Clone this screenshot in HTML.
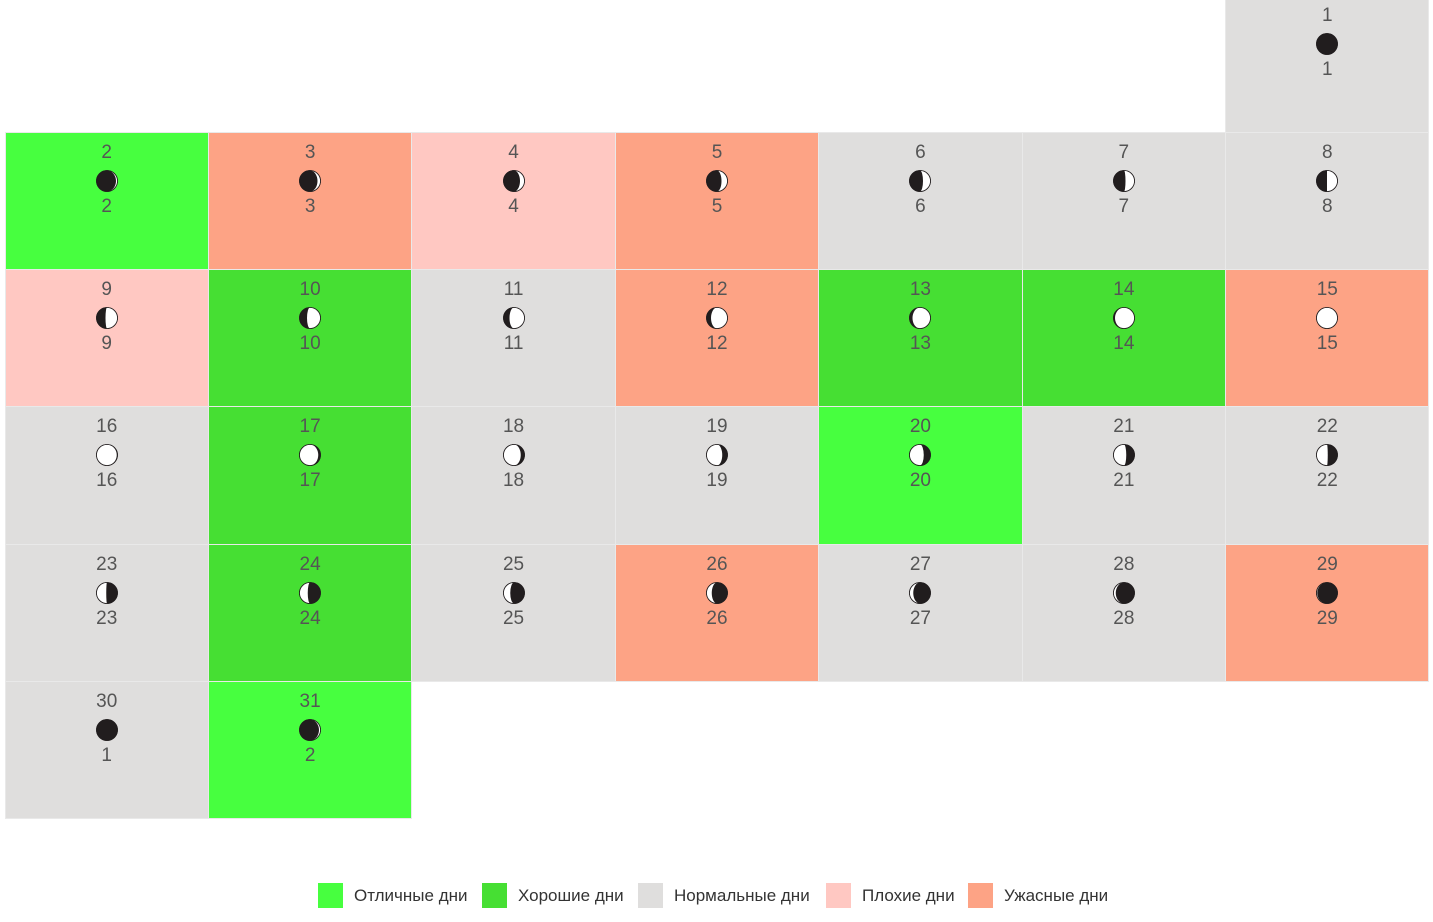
<!DOCTYPE html>
<html><head><meta charset="utf-8"><style>
body{margin:0;width:1433px;height:922px;background:#fff;position:relative;overflow:hidden;font-family:"Liberation Sans",sans-serif;}
.c{position:absolute;box-sizing:border-box;width:204.4px;height:138.3px;border:1px solid #e9e9e9;color:#555;font-size:19px;}
.t{position:absolute;left:0;right:0;text-align:center;line-height:20px;}
.t1{top:10px}.t2{top:64px}
.c svg{position:absolute;left:50%;margin-left:-12px;top:36px;}
.E{background:#47ff3f}.G{background:#46df33}.N{background:#dfdedd}.B{background:#ffc8c2}.T{background:#fda385}
.lg{position:absolute;top:883px;height:25px;font-size:17px;color:#333;line-height:25px;}
.lg i{position:absolute;left:0;top:0;width:25px;height:25px;}
.lg span{position:absolute;left:36px;white-space:nowrap;}
</style></head><body>
<div id="g"></div>
<div class="lg" style="left:318px"><i class="E"></i><span>Отличные дни</span></div>
<div class="lg" style="left:482px"><i class="G"></i><span>Хорошие дни</span></div>
<div class="lg" style="left:638px"><i class="N"></i><span>Нормальные дни</span></div>
<div class="lg" style="left:826px"><i class="B"></i><span>Плохие дни</span></div>
<div class="lg" style="left:968px"><i class="T"></i><span>Ужасные дни</span></div>
<script>
var d=[[1,1,'N'],[2,2,'E'],[3,3,'T'],[4,4,'B'],[5,5,'T'],[6,6,'N'],[7,7,'N'],[8,8,'N'],[9,9,'B'],[10,10,'G'],[11,11,'N'],[12,12,'T'],[13,13,'G'],[14,14,'G'],[15,15,'T'],[16,16,'N'],[17,17,'G'],[18,18,'N'],[19,19,'N'],[20,20,'E'],[21,21,'N'],[22,22,'N'],[23,23,'N'],[24,24,'G'],[25,25,'N'],[26,26,'T'],[27,27,'N'],[28,28,'N'],[29,29,'T'],[30,1,'N'],[31,2,'E']];
var h='';
for(var i=0;i<d.length;i++){
 var pos=i+6,r=Math.floor(pos/7),c=pos%7;
 var x=5+c*203.43-0.5,y=-5+r*137.3-0.5;
 var L=d[i][1],R=10.5,path='';
 var wax=L<=15,p=wax?(L-1)/14:(29.5-L)/14;
 p=Math.max(0,Math.min(1,p));
 var rx=(R*Math.abs(1-2*p)).toFixed(2);
 if(p>0.02){
  if(wax) path='M0,-'+R+' A'+R+' '+R+' 0 0 1 0,'+R+' A'+rx+' '+R+' 0 0 '+(p<0.5?0:1)+' 0,-'+R+'Z';
  else path='M0,-'+R+' A'+R+' '+R+' 0 0 0 0,'+R+' A'+rx+' '+R+' 0 0 '+(p<0.5?1:0)+' 0,-'+R+'Z';
 }
 h+='<div class="c '+d[i][2]+'" style="left:'+x+'px;top:'+y+'px"><div class="t t1">'+d[i][0]+'</div><svg width="24" height="24" viewBox="-12 -12 24 24"><circle r="'+R+'" fill="#211d1e" stroke="#211d1e" stroke-width="0.8"/>'+(path?'<path d="'+path+'" fill="#fff"/>':'')+'<circle r="'+R+'" fill="none" stroke="#211d1e" stroke-width="0.8"/></svg><div class="t t2">'+L+'</div></div>';
}
document.getElementById('g').innerHTML=h;
</script>
</body></html>
